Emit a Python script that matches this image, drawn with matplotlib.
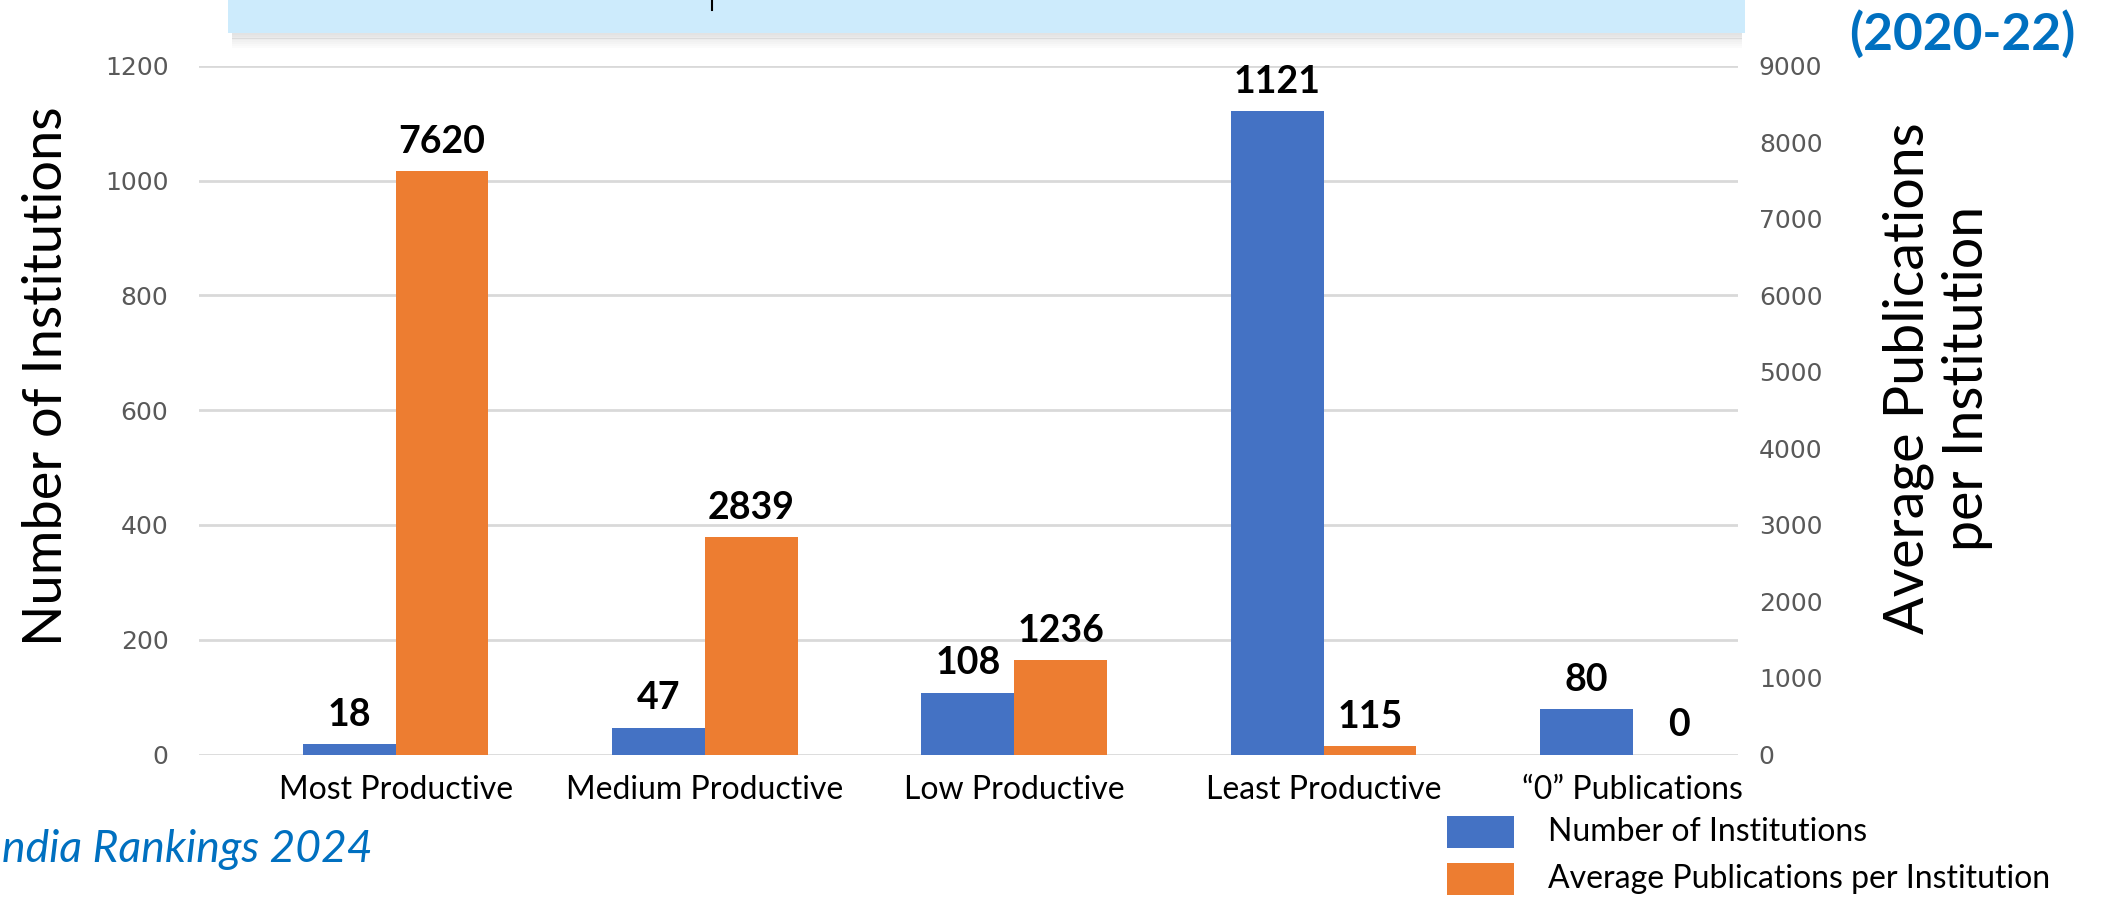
import matplotlib.pyplot as plt
from matplotlib.patches import Rectangle
from matplotlib.lines import Line2D
import numpy as np

categories = ["Most Productive", "Medium Productive", "Low Productive",
              "Least Productive", "\u201c0\u201d Publications"]
num_institutions = [18, 47, 108, 1121, 80]
avg_publications = [7620, 2839, 1236, 115, 0]

BLUE = "#4472C4"
ORANGE = "#ED7D31"
TITLE_BLUE = "#0070C0"

plt.rcParams['font.family'] = ['Lato', 'DejaVu Sans']

W, H = 2105, 900
fig = plt.figure(figsize=(W / 100, H / 100), dpi=100)

# plot area in pixel coords of the slide crop
left, right, bottom, top = 199, 1738, 754.5, 65.8
ax = fig.add_axes([left / W, 1 - bottom / H, (right - left) / W, (bottom - top) / H])
ax2 = ax.twinx()

x = np.arange(len(categories))
w = 0.30
ax.bar(x - w / 2, num_institutions, width=w, color=BLUE, zorder=3)
ax2.bar(x + w / 2, avg_publications, width=w, color=ORANGE, zorder=3)

for xi, v in zip(x, num_institutions):
    ax.annotate(str(v), (xi - w / 2, v), xytext=(0, 13), textcoords='offset points',
                ha='center', va='baseline', fontsize=27, fontweight='bold')
for xi, v in zip(x, avg_publications):
    ax2.annotate(str(v), (xi + w / 2, v), xytext=(0, 13), textcoords='offset points',
                 ha='center', va='baseline', fontsize=27, fontweight='bold')

ax.set_xlim(-0.636, 4.34)
ax.set_ylim(0, 1200)
ax2.set_ylim(0, 9000)
ax.set_yticks(range(0, 1201, 200))
ax2.set_yticks(range(0, 9001, 1000))
ax.set_xticks(x)
ax.set_xticklabels(categories, fontsize=23)

ax.grid(axis='y', color='#D9D9D9', linewidth=2, zorder=0)
ax.set_axisbelow(True)
for a in (ax, ax2):
    for s in a.spines.values():
        s.set_visible(False)
ax.tick_params(axis='x', length=0, pad=15)
ax.tick_params(axis='y', length=0, pad=22, labelsize=18, labelcolor='#595959')
ax2.tick_params(axis='y', length=0, pad=15, labelsize=18, labelcolor='#595959')
for lab in ax.get_yticklabels() + ax2.get_yticklabels():
    lab.set_fontfamily('DejaVu Sans')

# axis titles
fig.text(47 / W, 1 - 376 / H, "Number of Institutions", rotation=90,
         ha='center', va='center', fontsize=39)
fig.text(1938 / W, 1 - 378 / H, "Average Publications\nper Institution", rotation=90,
         ha='center', va='center', multialignment='center', fontsize=40, linespacing=1.2)

# title box at top (cut off in the crop)
for i in range(8):
    fig.add_artist(Rectangle(((228 + 4) / W, 1 - (35 + i * 1.8) / H), 1510 / W, 2 / H,
                             transform=fig.transFigure, color='#808080',
                             alpha=0.22 * (1 - i / 8), lw=0))
fig.add_artist(Rectangle((228 / W, 1 - 33 / H), 1517 / W, 40 / H,
                         transform=fig.transFigure, color='#CDEBFC', lw=0))
fig.add_artist(Line2D([712 / W, 712 / W], [1, 1 - 10 / H], transform=fig.transFigure,
                      color='black', lw=1.5))

fig.text(2075 / W, 1 - 34 / H, "(2020-22)", ha='right', va='center',
         fontsize=37, fontweight='bold', color=TITLE_BLUE)
fig.text(2 / W, 1 - 850 / H, "ndia Rankings 2024", ha='left', va='center',
         fontsize=32, style='italic', color=TITLE_BLUE)

# legend
for y0, col, txt in [(816, BLUE, "Number of Institutions"),
                     (863, ORANGE, "Average Publications per Institution")]:
    fig.add_artist(Rectangle((1447 / W, 1 - (y0 + 32) / H), 67 / W, 32 / H,
                             transform=fig.transFigure, color=col, lw=0))
    fig.text(1548 / W, 1 - (y0 + 16) / H, txt, ha='left', va='center', fontsize=23)

fig.savefig("out.png", dpi=100)
